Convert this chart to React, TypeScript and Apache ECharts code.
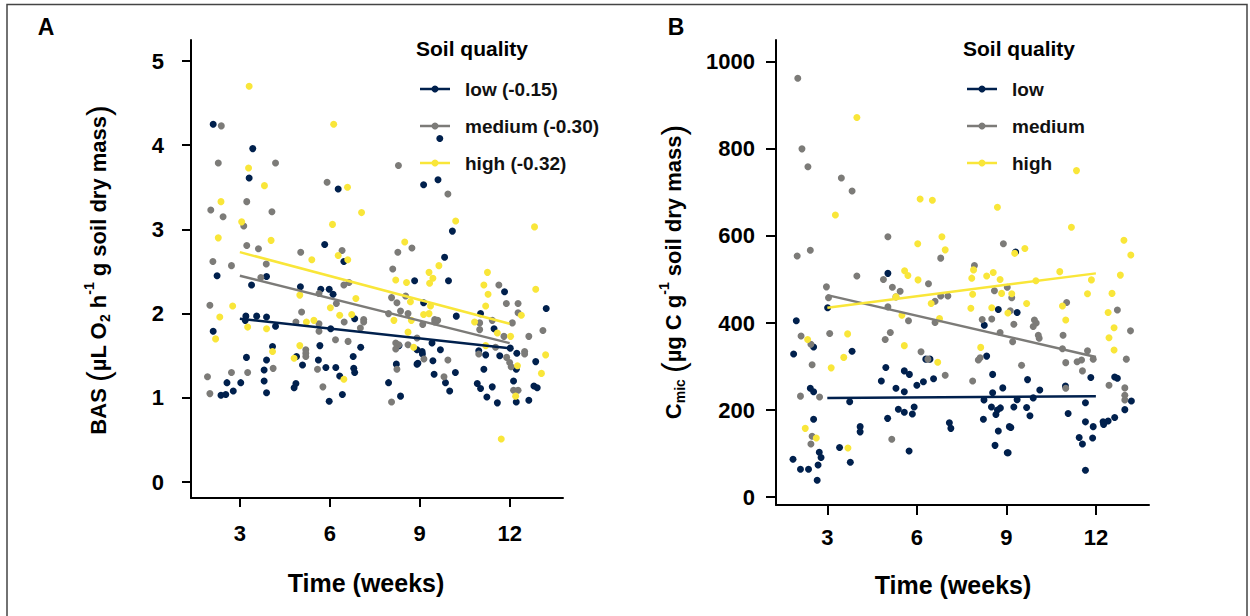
import React, { useEffect, useRef } from "react";
import * as echarts from "echarts";

// ---------- data ----------
const xTicks = [3, 6, 9, 12];
const yTicksA = [0, 1, 2, 3, 4, 5];
const yTicksB = [0, 200, 400, 600, 800, 1000];
const qualityNames = ["low", "medium", "high"];
const legendLabelsA = ["low (-0.15)", "medium (-0.30)", "high (-0.32)"];
const legendLabelsB = ["low", "medium", "high"];

// Panel A: BAS (week, value)
const basLow = [
  [2.11,4.25],[3.43,3.96],[3.31,3.61],[2.24,2.45],[3.89,2.44],[6.28,3.48],[5.83,2.82],[6.47,2.62],[3.39,2.34],[5.02,2.32],
  [5.70,2.29],[5.98,2.29],[6.11,2.23],[3.20,1.97],[3.18,1.92],[3.56,1.97],[3.89,1.96],[4.19,1.85],[6.03,1.82],[6.83,1.94],
  [2.11,1.79],[5.67,1.62],[7.03,1.60],[4.09,1.61],[4.89,1.49],[3.22,1.48],[3.89,1.45],[5.62,1.45],[6.78,1.49],[3.81,1.33],
  [5.87,1.36],[6.20,1.36],[6.80,1.35],[6.83,1.30],[5.09,1.39],[6.33,1.26],[2.57,1.18],[3.03,1.18],[3.81,1.20],[4.87,1.17],
  [4.81,1.12],[2.37,1.03],[2.53,1.04],[2.78,1.08],[3.89,1.06],[6.42,1.04],[5.98,0.96],[8.36,1.02],[7.96,1.18],[8.22,1.40],
  [8.83,2.39],[8.31,1.62],[8.91,1.57],[8.91,1.40],[9.13,3.53],[9.61,3.59],[9.67,4.08],[10.09,2.98],[9.83,2.67],[9.96,2.39],
  [11.83,2.26],[13.22,2.06],[9.13,2.13],[10.22,1.97],[11.03,2.00],[11.48,1.82],[9.08,1.55],[9.09,1.52],[9.41,1.65],[9.69,1.57],
  [12.02,1.59],[10.97,1.56],[11.20,1.51],[11.67,1.50],[12.24,1.53],[12.87,1.43],[12.22,1.34],[8.94,1.41],[9.44,1.44],[9.48,1.28],
  [10.19,1.30],[11.14,1.34],[9.86,1.18],[10.00,1.08],[10.92,1.17],[11.03,1.11],[11.42,1.13],[12.13,1.20],[12.81,1.14],[12.92,1.12],
  [11.24,1.01],[11.59,0.94],[12.22,0.95],[12.64,0.97]
];
const basMedium = [
  [2.38,4.23],[2.28,3.79],[4.19,3.79],[3.23,3.33],[2.03,3.23],[2.44,3.15],[4.07,3.21],[3.13,3.04],[3.23,2.81],[3.62,2.77],
  [5.03,2.73],[2.10,2.62],[2.72,2.57],[3.88,2.59],[3.70,2.43],[5.91,3.56],[6.41,2.75],[8.29,3.76],[8.27,2.73],[8.74,2.78],
  [8.10,2.53],[5.64,2.24],[6.47,2.34],[6.64,2.37],[6.22,2.12],[2.00,2.10],[5.06,2.02],[4.87,1.90],[5.64,1.88],[5.64,1.79],
  [6.48,1.90],[7.02,1.83],[7.13,1.93],[7.13,1.90],[6.19,1.69],[6.61,1.67],[5.20,1.57],[5.20,1.53],[5.20,1.49],[4.11,1.35],
  [5.59,1.34],[1.92,1.25],[2.72,1.30],[3.26,1.30],[2.00,1.05],[5.77,1.13],[8.06,0.95],[8.24,1.34],[8.06,2.19],[8.24,2.13],
  [8.53,2.21],[8.36,2.03],[8.61,2.00],[7.96,2.00],[8.20,1.65],[8.30,1.63],[8.20,1.58],[8.61,1.63],[8.91,1.71],[9.94,3.42],
  [11.64,2.34],[11.89,2.12],[12.28,2.12],[12.28,2.01],[9.50,1.93],[9.60,1.92],[9.50,1.90],[9.10,1.87],[11.00,1.89],[11.00,1.81],
  [11.42,1.92],[12.09,1.89],[12.64,1.73],[11.81,1.73],[13.11,1.80],[11.53,1.60],[10.97,1.52],[11.90,1.48],[12.00,1.42],[12.05,1.37],
  [12.50,1.55],[12.50,1.52],[9.14,1.46],[9.94,1.45],[9.81,1.25],[12.13,1.09],[12.28,1.09]
];
const basHigh = [
  [3.31,4.70],[3.29,3.73],[3.82,3.52],[2.37,3.33],[3.06,3.09],[2.28,2.90],[4.04,2.87],[5.40,2.64],[6.13,4.25],[6.59,3.50],
  [7.06,3.20],[6.09,3.06],[6.28,2.69],[6.60,2.64],[8.50,2.85],[8.20,2.40],[8.56,2.37],[5.00,2.22],[6.87,2.18],[6.02,2.07],
  [2.76,2.09],[2.33,1.96],[3.26,1.84],[3.89,1.82],[5.22,1.90],[5.47,1.92],[6.33,1.98],[6.73,1.99],[2.19,1.70],[4.09,1.55],
  [5.00,1.62],[4.81,1.47],[6.47,1.22],[8.69,2.14],[8.14,1.92],[8.72,1.92],[8.61,1.78],[8.80,1.60],[10.20,3.10],[12.83,3.03],
  [9.64,2.57],[9.31,2.49],[9.44,2.42],[9.33,2.36],[11.26,2.49],[11.14,2.34],[11.28,2.23],[11.20,2.09],[12.87,2.29],[12.39,1.98],
  [9.36,2.09],[9.13,1.99],[9.31,2.00],[10.83,1.90],[11.59,1.77],[12.03,1.73],[11.20,1.62],[13.20,1.51],[12.26,1.38],[13.06,1.29],
  [12.20,1.02],[11.72,0.51]
];
// fitted lines, panel A
const basFitLow = [[3, 1.94], [12, 1.59]];
const basFitMedium = [[3, 2.45], [12, 1.65]];
const basFitHigh = [[3, 2.73], [12, 1.88]];

// Panel B: Cmic (week, value)
const cmicLow = [
  [5.03,514],[3.01,435],[8.73,431],[8.26,395],[1.96,405],[1.87,329],[2.54,345],[3.83,335],[4.96,298],[6.30,317],
  [6.44,317],[5.58,290],[5.75,282],[4.81,267],[5.30,250],[5.58,242],[6.00,257],[6.22,265],[6.56,272],[8.34,324],
  [8.54,282],[8.88,251],[8.54,240],[8.25,223],[8.50,207],[8.70,200],[8.65,190],[8.80,205],[8.23,179],[8.73,152],
  [8.62,119],[9.03,102],[9.10,162],[2.43,250],[2.54,242],[3.75,219],[2.54,179],[2.73,103],[2.79,91],[2.69,74],
  [2.66,39],[1.85,87],[2.10,64],[2.37,64],[3.41,114],[3.77,80],[4.10,162],[4.10,150],[5.02,181],[5.38,202],
  [5.58,195],[5.85,191],[5.91,207],[5.74,106],[7.09,171],[7.14,158],[9.31,563],[9.36,424],[11.83,275],[9.71,270],
  [12.63,276],[12.72,273],[10.98,255],[10.12,246],[9.36,224],[9.90,228],[11.65,217],[13.19,221],[9.25,207],[9.68,206],
  [12.97,201],[9.79,187],[11.07,192],[11.65,173],[11.91,162],[12.24,173],[12.41,175],[12.63,183],[12.26,167],[9.15,160],
  [11.44,137],[11.55,122],[11.89,136],[9.06,102],[11.65,62]
];
const cmicMedium = [
  [2.01,962],[2.15,800],[2.35,759],[3.47,733],[3.83,703],[5.03,598],[8.90,582],[1.99,554],[2.43,567],[6.80,549],
  [7.93,532],[3.99,508],[4.88,500],[6.39,490],[2.97,483],[3.04,458],[5.18,482],[5.44,473],[5.30,460],[5.03,437],
  [5.72,405],[6.61,450],[6.80,462],[7.04,462],[6.61,401],[8.60,474],[8.19,408],[8.51,409],[8.79,378],[3.08,376],
  [2.12,370],[4.94,362],[5.11,378],[2.45,351],[2.49,304],[6.14,334],[6.37,317],[6.95,280],[7.87,267],[8.06,315],
  [8.12,320],[2.10,232],[2.74,230],[2.49,140],[2.45,122],[5.16,133],[9.03,482],[9.18,458],[11.02,447],[9.13,428],
  [12.72,430],[9.25,397],[9.94,407],[10.00,400],[9.90,392],[10.07,372],[10.10,365],[9.21,357],[13.16,382],[10.90,372],
  [10.88,341],[11.72,336],[11.91,317],[13.02,317],[11.37,311],[11.52,315],[10.99,309],[9.51,303],[11.55,290],[12.44,257],
  [10.99,250],[12.97,251],[12.97,234],[12.97,223]
];
const cmicHigh = [
  [3.99,872],[3.27,648],[6.11,685],[6.52,682],[8.70,666],[6.84,598],[6.03,582],[6.95,568],[5.59,520],[5.70,509],
  [6.04,499],[7.90,522],[8.34,508],[8.56,516],[8.79,500],[7.84,503],[5.30,460],[5.50,418],[6.48,445],[6.76,410],
  [7.87,466],[8.84,468],[7.81,434],[8.51,435],[9.05,423],[3.68,375],[2.34,362],[5.58,348],[3.55,321],[3.13,297],
  [6.70,310],[8.14,344],[2.26,158],[2.63,136],[3.69,113],[11.35,750],[11.18,620],[12.94,590],[13.17,556],[9.28,560],
  [9.62,571],[10.79,518],[12.82,510],[11.85,499],[9.99,497],[9.18,467],[11.72,467],[12.54,468],[9.68,445],[10.88,439],
  [12.41,424],[10.99,407],[12.61,389],[12.44,366],[12.61,338]
];
// fitted lines, panel B
const cmicFitLow = [[3, 228], [12, 232]];
const cmicFitMedium = [[3, 464], [12, 322]];
const cmicFitHigh = [[3, 435], [12, 514]];

// ---------- styles ----------
const COLORS = ["#00204D", "#7C7B78", "#F9E639"];
const FONT = "Liberation Sans, Arial, sans-serif";

function xAxisCfg(gridIndex: number, min: number, margin: number, tickLen: number) {
  return {
    type: "value", gridIndex, min, max: 13.78,
    axisLine: { show: true, onZero: false, lineStyle: { color: "#000", width: 2 } },
    axisTick: { show: true, length: tickLen, customValues: xTicks, lineStyle: { color: "#000", width: 2 } },
    axisLabel: { customValues: xTicks, formatter: (v: number) => String(v), fontSize: 22, fontWeight: "bold", color: "#000", fontFamily: FONT, margin },
    splitLine: { show: false },
  };
}
function yAxisCfg(gridIndex: number, min: number, max: number, ticks: number[], margin: number, tickLen: number) {
  return {
    type: "value", gridIndex, min, max,
    axisLine: { show: true, onZero: false, lineStyle: { color: "#000", width: 2 } },
    axisTick: { show: true, length: tickLen, customValues: ticks, lineStyle: { color: "#000", width: 2 } },
    axisLabel: { customValues: ticks, formatter: (v: number) => String(v), fontSize: 22, fontWeight: "bold", color: "#000", fontFamily: FONT, margin },
    splitLine: { show: false },
  };
}

function scatter(data: number[][], idx: number, c: number) {
  return {
    type: "scatter", name: qualityNames[c], data, xAxisIndex: idx, yAxisIndex: idx,
    symbolSize: 7, itemStyle: { color: COLORS[c], opacity: 1 }, z: 2,
  };
}
function fit(data: number[][], idx: number, c: number) {
  return {
    type: "line", data, xAxisIndex: idx, yAxisIndex: idx, showSymbol: false,
    lineStyle: { color: COLORS[c], width: 2.5 }, z: 3, silent: true,
  };
}

function legend(x: number, y: number, labels: string[]) {
  const els: any[] = [
    { type: "text", x, y: y - 10, style: { text: "Soil quality", fontSize: 21, fontWeight: "bold", fontFamily: FONT, fill: "#000", align: "left", verticalAlign: "middle" } },
  ];
  labels.forEach((lab, i) => {
    const ly = y + 31 + i * 37;
    els.push({ type: "line", shape: { x1: x + 4, y1: ly, x2: x + 34, y2: ly }, style: { stroke: COLORS[i], lineWidth: 2.5 } });
    els.push({ type: "circle", shape: { cx: x + 19, cy: ly, r: 3.5 }, style: { fill: COLORS[i] } });
    els.push({ type: "text", x: x + 49, y: ly, style: { text: lab, fontSize: 19, fontWeight: "bold", fontFamily: FONT, fill: "#111", align: "left", verticalAlign: "middle" } });
  });
  return els;
}

const richLabel = {
  b: { fontSize: 22, fontWeight: "bold", fontFamily: FONT, fill: "#000", lineHeight: 32, verticalAlign: "middle" },
  p: { fontSize: 32, fontWeight: "normal", fontFamily: FONT, fill: "#000", lineHeight: 32, verticalAlign: "middle" },
  sub: { fontSize: 14, fontWeight: "bold", fontFamily: FONT, fill: "#000", lineHeight: 16, verticalAlign: "bottom", padding: [0, 0, 2, 0] },
  sup: { fontSize: 14, fontWeight: "bold", fontFamily: FONT, fill: "#000", lineHeight: 14, verticalAlign: "top" },
};

export default function App() {
  const ref = useRef<HTMLDivElement>(null);
  useEffect(() => {
    if (!ref.current) return;
    const chart = echarts.init(ref.current, null, { renderer: "svg" });
    chart.setOption({
      animation: false,
      backgroundColor: "#fff",
      grid: [
        { left: 191, top: 40, width: 372, height: 458 },
        { left: 776, top: 40, width: 373, height: 465 },
      ],
      xAxis: [xAxisCfg(0, 1.37, 24, 9), xAxisCfg(1, 1.28, 21, 10)],
      yAxis: [yAxisCfg(0, -0.19, 5.25, yTicksA, 27, 9), yAxisCfg(1, -18, 1050, yTicksB, 21, 10)],
      series: [
        scatter(basLow, 0, 0), scatter(basMedium, 0, 1), scatter(basHigh, 0, 2),
        scatter(cmicLow, 1, 0), scatter(cmicMedium, 1, 1), scatter(cmicHigh, 1, 2),
        fit(basFitLow, 0, 0), fit(basFitMedium, 0, 1), fit(basFitHigh, 0, 2),
        fit(cmicFitLow, 1, 0), fit(cmicFitMedium, 1, 1), fit(cmicFitHigh, 1, 2),
      ],
      graphic: [
        { type: "polyline", shape: { points: [[7, 620], [7, 4.5], [1247, 4.5], [1247, 620]] }, style: { stroke: "#444", lineWidth: 1.5, fill: null } },
        { type: "text", x: 46, y: 27, style: { text: "A", fontSize: 23, fontWeight: "bold", fontFamily: FONT, fill: "#000", align: "center", verticalAlign: "middle" } },
        { type: "text", x: 676, y: 27, style: { text: "B", fontSize: 23, fontWeight: "bold", fontFamily: FONT, fill: "#000", align: "center", verticalAlign: "middle" } },
        { type: "text", x: 366, y: 583, style: { text: "Time (weeks)", fontSize: 25, fontWeight: "bold", fontFamily: FONT, fill: "#000", align: "center", verticalAlign: "middle" } },
        { type: "text", x: 953, y: 585, style: { text: "Time (weeks)", fontSize: 25, fontWeight: "bold", fontFamily: FONT, fill: "#000", align: "center", verticalAlign: "middle" } },
        {
          type: "text", x: 98, y: 270, rotation: Math.PI / 2,
          style: {
            text: "{b|BAS }{p|(}{b|µL O}{sub|2}{b| h}{sup|-1}{b| g soil dry mass}{p|)}",
            rich: richLabel, align: "center", verticalAlign: "middle",
          },
        },
        {
          type: "text", x: 673, y: 272, rotation: Math.PI / 2,
          style: {
            text: "{b|C}{sub|mic}{b| }{p|(}{b|µg C g}{sup|-1}{b| soil dry mass}{p|)}",
            rich: richLabel, align: "center", verticalAlign: "middle",
          },
        },
        ...legend(416, 58, legendLabelsA),
        ...legend(963, 58, legendLabelsB),
      ],
    });
    return () => chart.dispose();
  }, []);
  return <div ref={ref} style={{ position: "fixed", left: 0, top: 0, width: 1250, height: 616 }} />;
}
